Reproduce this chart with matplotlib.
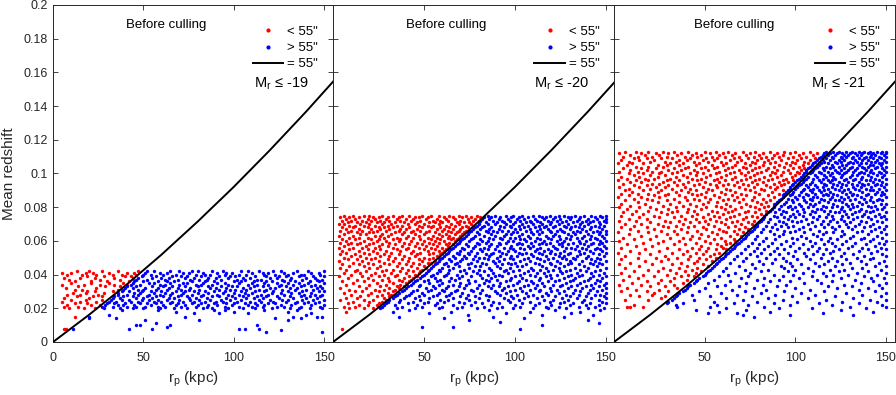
import matplotlib
matplotlib.use("Agg")
import matplotlib.pyplot as plt
from matplotlib.lines import Line2D
import numpy as np

plt.rcParams['font.family'] = ['Liberation Sans', 'DejaVu Sans']

# %% data: rows of (redshift in units of 0.001, [r_p values in kpc])

# panel 1, Mr <= -19
red1 = [
    (42, [13, 20, 27, 36, 47]), (41, [5, 10, 18, 22, 31, 41, 45]), (40, [8, 16, 24, 33, 38, 46]),
    (39, [19, 28, 40, 43]), (38, [6, 15, 23, 34, 44]), (37, [9, 26, 37]), (36, [12, 21, 30, 42]),
    (35, [10, 21, 31, 39]), (34, [5, 17, 26, 34, 41]), (33, [14, 29, 37]), (32, [7, 24]),
    (31, [12, 16, 36]), (30, [19, 23, 33]), (29, [11, 18, 28]), (28, [8, 15, 25]), (27, [13, 22, 27]),
    (26, [6, 20]), (25, [10, 18, 27]), (24, [5, 15, 24]), (23, [12, 19]), (22, [8, 21, 26]),
    (21, [6, 14]), (20, [9, 17, 23]), (15, [12]), (8, [6, 7]),
]
blue1 = [
    (42, [52, 56, 65, 70, 77, 80, 88, 94, 104, 108, 114, 122, 126, 135, 141, 150]),
    (41, [51, 59, 63, 72, 75, 83, 91, 96, 99, 110, 116, 119, 128, 133, 143, 147]),
    (40, [50, 54, 61, 68, 79, 84, 87, 95, 103, 107, 117, 123, 130, 137, 139, 148]),
    (39, [49, 57, 66, 71, 74, 82, 92, 98, 101, 112, 118, 125, 129, 136, 144, 150]),
    (38, [47, 55, 60, 64, 73, 78, 86, 90, 97, 105, 109, 120, 124, 132, 140, 145]),
    (37, [46, 52, 62, 69, 76, 81, 85, 93, 102, 106, 113, 115, 127, 131, 138, 146, 149]),
    (36, [45, 50, 58, 63, 67, 77, 84, 89, 100, 104, 111, 118, 121, 128, 134, 142, 147]),
    (35, [44, 53, 56, 65, 72, 74, 83, 91, 95, 103, 110, 117, 124, 130, 136, 141, 150]),
    (34, [43, 48, 59, 62, 70, 79, 82, 88, 97, 108, 113, 119, 126, 133, 139, 145]),
    (33, [41, 46, 55, 61, 66, 73, 80, 86, 93, 99, 102, 111, 116, 125, 129, 137, 143, 148]),
    (32, [40, 44, 51, 58, 64, 69, 76, 87, 90, 96, 105, 109, 120, 123, 131, 135, 146, 149]),
    (31, [39, 47, 50, 57, 63, 71, 75, 81, 92, 98, 101, 107, 114, 118, 127, 134, 140, 144]),
    (30, [38, 42, 49, 54, 60, 68, 73, 78, 84, 89, 95, 104, 112, 117, 122, 130, 138, 147, 150]),
    (29, [36, 45, 48, 56, 62, 66, 72, 80, 86, 94, 100, 106, 110, 121, 126, 132, 136, 143]),
    (28, [36, 41, 47, 53, 59, 65, 71, 77, 83, 91, 97, 103, 108, 115, 119, 128, 139, 145, 149]),
    (27, [34, 39, 44, 52, 57, 61, 69, 74, 82, 88, 92, 99, 105, 113, 118, 124, 131, 137, 142, 148]),
    (26, [33, 37, 46, 50, 55, 64, 67, 75, 79, 85, 96, 101, 107, 111, 116, 125, 133, 140, 146]),
    (25, [32, 38, 42, 49, 53, 58, 63, 70, 76, 81, 87, 93, 98, 104, 114, 120, 127, 130, 138, 144, 150]),
    (24, [31, 35, 43, 47, 56, 60, 66, 72, 78, 84, 90, 94, 102, 109, 115, 122, 129, 135, 141, 147]),
    (23, [30, 34, 40, 48, 52, 57, 65, 69, 77, 82, 89, 96, 100, 106, 112, 119, 123, 134, 139, 145]),
    (22, [29, 36, 39, 45, 54, 61, 68, 73, 80, 86, 91, 99, 108, 113, 117, 126, 132, 143, 150]),
    (21, [27, 33, 41, 46, 51, 58, 62, 71, 79, 85, 95, 103, 110, 116, 124, 128, 137, 148]),
    (20, [28, 37, 44, 50, 59, 67, 74, 83, 88, 97, 105, 112, 121, 131, 136, 142, 149]),
    (19, [38, 58, 89, 95, 117, 135]), (18, [68, 100, 130]), (17, [78, 92, 108, 143]),
    (16, [31, 140]), (15, [20, 73, 133, 146, 149]), (14, [20, 35, 123, 137]), (13, [51, 81, 130]),
    (11, [57]), (10, [46, 48, 65, 113]), (9, [63]), (8, [11, 42, 55, 103, 106, 114]),
    (7, [126]), (6, [118, 149]),
]

# panel 2, Mr <= -20
red2 = [
    (75, [6, 11, 17, 20, 27, 33, 38, 42, 49, 54, 58, 64, 69, 73, 79]),
    (74, [4, 9, 14, 22, 25, 30, 36, 45, 47, 52, 61, 66, 71, 76, 81]),
    (73, [7, 12, 19, 23, 29, 35, 40, 44, 51, 57, 62, 67, 74, 78]),
    (72, [5, 10, 16, 21, 26, 31, 37, 43, 48, 55, 59, 63, 70, 77, 80]),
    (71, [8, 13, 18, 24, 28, 34, 39, 46, 53, 56, 60, 68, 72, 75]),
    (70, [3, 6, 15, 20, 27, 32, 41, 45, 50, 58, 65, 69, 76]),
    (69, [9, 12, 17, 23, 30, 35, 38, 47, 52, 55, 62, 67, 73, 77]),
    (68, [5, 11, 19, 25, 28, 33, 42, 49, 54, 59, 64, 71, 74]),
    (67, [7, 14, 21, 26, 31, 37, 40, 46, 57, 61, 66, 70, 75]),
    (66, [4, 10, 16, 24, 29, 36, 44, 48, 53, 60, 63, 69, 73]),
    (65, [8, 13, 20, 22, 34, 39, 43, 51, 56, 65, 68, 72]),
    (64, [6, 15, 18, 27, 32, 38, 45, 50, 58, 62, 67, 71]),
    (63, [3, 11, 23, 26, 30, 41, 47, 55, 60, 64, 70]),
    (62, [9, 14, 19, 28, 35, 40, 44, 52, 57, 63, 66, 69]),
    (61, [5, 12, 21, 25, 33, 37, 48, 54, 59, 65, 68]),
    (60, [7, 17, 24, 29, 36, 43, 50, 56, 61, 67]),
    (59, [4, 10, 15, 22, 31, 39, 46, 53, 58, 64]),
    (58, [8, 13, 20, 27, 34, 42, 49, 55, 62, 66]),
    (57, [6, 18, 25, 30, 38, 45, 51, 57, 63]),
    (56, [3, 11, 16, 23, 33, 41, 47, 54, 60, 64]),
    (55, [9, 19, 26, 35, 40, 50, 56, 62]),
    (54, [5, 14, 22, 29, 37, 44, 52, 58, 61]),
    (53, [7, 17, 24, 32, 43, 48, 55, 60]),
    (52, [4, 12, 20, 28, 36, 46, 53, 59]),
    (51, [10, 15, 26, 31, 39, 45, 57]),
    (50, [6, 18, 23, 34, 42, 50, 55, 58]),
    (49, [8, 13, 21, 30, 38, 47, 53]),
    (48, [3, 16, 25, 33, 41, 49, 56]),
    (47, [11, 19, 28, 36, 44, 52, 54]),
    (46, [5, 14, 22, 31, 40, 47, 53]),
    (45, [9, 17, 26, 35, 43, 50]), (44, [4, 20, 24, 38, 46, 51]), (43, [7, 13, 29, 33, 41, 49]),
    (42, [12, 18, 27, 37, 44, 48]), (41, [6, 15, 23, 32, 40, 47]), (40, [10, 21, 28, 35, 45]),
    (39, [3, 16, 25, 34, 42, 46]), (38, [8, 19, 30, 39, 44]), (37, [13, 22, 27, 36, 43]),
    (36, [5, 17, 31, 38, 42]), (35, [11, 24, 33, 40]), (34, [7, 20, 29, 37]), (33, [14, 26, 35, 39]),
    (32, [4, 18, 31, 36]), (31, [9, 23, 28, 34]), (30, [12, 16, 25, 33]), (29, [6, 21, 30]),
    (28, [10, 19, 27, 32]), (27, [15, 24, 31]), (26, [7, 13, 28]), (25, [4, 17, 22, 29]),
    (24, [11, 20, 27]), (23, [8, 25]), (22, [14, 19, 24]), (21, [6, 12]), (20, [9, 17, 22]),
    (18, [7]), (8, [5]),
]
blue2 = [
    (75, [85, 89, 95, 99, 104, 110, 113, 119, 124, 127, 133, 138, 142, 147, 150]),
    (74, [83, 87, 92, 98, 102, 107, 115, 117, 122, 129, 131, 136, 144, 148]),
    (73, [82, 86, 91, 96, 101, 105, 111, 116, 121, 125, 130, 135, 140, 145, 150]),
    (72, [81, 88, 93, 97, 103, 108, 112, 118, 123, 128, 134, 139, 143, 149]),
    (71, [80, 84, 90, 94, 100, 106, 109, 114, 120, 126, 132, 137, 141, 146, 150]),
    (70, [80, 85, 89, 95, 99, 104, 110, 115, 119, 124, 129, 136, 140, 147]),
    (69, [79, 83, 92, 97, 102, 107, 113, 117, 122, 127, 133, 138, 144, 149]),
    (68, [78, 82, 87, 94, 98, 105, 111, 116, 121, 128, 131, 135, 142, 146]),
    (67, [77, 81, 86, 91, 100, 103, 108, 114, 118, 125, 130, 137, 141, 148]),
    (66, [76, 84, 88, 93, 96, 106, 112, 119, 123, 126, 134, 139, 145, 150]),
    (65, [75, 79, 85, 90, 99, 101, 109, 115, 120, 127, 132, 136, 143, 147]),
    (64, [74, 80, 87, 95, 98, 104, 110, 113, 122, 129, 133, 140, 146, 150]),
    (63, [73, 78, 83, 89, 94, 102, 107, 117, 121, 124, 131, 138, 142, 148]),
    (62, [72, 77, 86, 92, 97, 100, 108, 112, 118, 128, 134, 137, 144, 149]),
    (61, [71, 76, 81, 88, 93, 103, 105, 114, 120, 125, 130, 141, 145]),
    (60, [70, 75, 82, 85, 96, 99, 106, 111, 116, 123, 127, 135, 139, 147, 150]),
    (59, [69, 79, 84, 91, 95, 102, 109, 115, 119, 126, 132, 136, 143, 148]),
    (58, [68, 73, 80, 87, 92, 101, 104, 113, 117, 124, 129, 138, 142, 146]),
    (57, [67, 74, 78, 86, 90, 98, 107, 110, 121, 126, 134, 140, 149]),
    (56, [66, 71, 77, 83, 94, 97, 103, 108, 114, 122, 128, 131, 137, 145, 150]),
    (55, [65, 72, 81, 85, 89, 99, 105, 112, 118, 123, 133, 139, 144, 147]),
    (54, [64, 70, 76, 82, 91, 96, 100, 111, 116, 120, 127, 135, 141, 148]),
    (53, [63, 68, 74, 79, 88, 93, 102, 106, 113, 119, 125, 130, 138, 143, 150]),
    (52, [62, 69, 75, 84, 87, 95, 104, 109, 115, 122, 129, 136, 146]),
    (51, [61, 66, 72, 78, 86, 92, 98, 101, 110, 117, 124, 127, 134, 140, 149]),
    (50, [60, 67, 73, 80, 83, 90, 97, 107, 112, 121, 126, 132, 139, 145]),
    (49, [59, 64, 71, 77, 85, 94, 99, 105, 114, 118, 128, 133, 142, 147]),
    (48, [58, 65, 70, 79, 88, 91, 103, 108, 116, 123, 130, 137, 144, 150]),
    (47, [57, 62, 68, 76, 82, 89, 96, 100, 111, 119, 125, 131, 141, 146]),
    (46, [56, 61, 67, 74, 84, 93, 98, 106, 113, 120, 129, 135, 143, 148]),
    (45, [55, 63, 69, 78, 81, 90, 101, 104, 115, 122, 127, 138, 145]),
    (44, [54, 60, 66, 75, 86, 92, 97, 109, 117, 124, 133, 140, 150]),
    (43, [53, 58, 64, 72, 80, 87, 95, 102, 110, 114, 121, 130, 136, 147]),
    (42, [52, 59, 70, 77, 83, 94, 99, 107, 118, 125, 128, 139, 144]),
    (41, [51, 57, 63, 73, 79, 88, 96, 105, 112, 116, 126, 134, 142, 149]),
    (40, [50, 55, 62, 68, 81, 85, 91, 103, 108, 119, 123, 131, 137, 146]),
    (39, [49, 54, 61, 71, 76, 89, 93, 100, 111, 117, 129, 135, 143, 150]),
    (38, [48, 56, 65, 69, 82, 87, 98, 104, 114, 120, 127, 133, 141, 148]),
    (37, [46, 52, 59, 67, 74, 84, 90, 97, 106, 113, 124, 132, 140, 145]),
    (36, [45, 50, 57, 64, 78, 86, 95, 102, 109, 118, 122, 130, 138, 147]),
    (35, [44, 53, 60, 70, 75, 83, 92, 101, 110, 115, 128, 136, 144, 150]),
    (34, [43, 48, 58, 66, 73, 80, 88, 99, 107, 112, 121, 126, 134, 142, 149]),
    (33, [41, 47, 55, 63, 69, 85, 91, 96, 105, 116, 125, 131, 139, 146]),
    (32, [40, 51, 56, 62, 72, 79, 87, 94, 103, 111, 119, 129, 137, 143, 150]),
    (31, [39, 46, 54, 60, 68, 76, 82, 93, 100, 108, 114, 123, 133, 141, 148]),
    (30, [38, 44, 52, 61, 67, 77, 89, 97, 104, 113, 120, 127, 136, 145]),
    (29, [36, 43, 49, 58, 65, 71, 81, 90, 95, 106, 117, 124, 132, 140, 150]),
    (28, [35, 42, 50, 57, 64, 74, 84, 92, 101, 110, 118, 128, 135, 144, 147]),
    (27, [34, 40, 47, 55, 62, 70, 78, 86, 98, 107, 115, 122, 130, 139, 149]),
    (26, [33, 39, 45, 53, 66, 73, 80, 94, 99, 105, 112, 126, 134, 142, 150]),
    (25, [31, 37, 48, 59, 63, 75, 85, 96, 102, 116, 121, 129, 138, 146]),
    (24, [30, 36, 44, 52, 61, 69, 78, 88, 97, 108, 119, 127, 137, 148]),
    (23, [29, 41, 50, 57, 72, 82, 91, 104, 113, 125, 132, 141, 150]),
    (22, [28, 34, 46, 56, 66, 76, 87, 100, 111, 120, 130, 139, 146]),
    (21, [27, 38, 49, 60, 71, 83, 93, 103, 117, 124, 135, 144]),
    (20, [26, 35, 45, 58, 68, 79, 90, 99, 110, 118, 128, 140, 149]),
    (19, [42, 86, 122, 147]), (18, [33, 65, 108, 136]), (17, [53, 95, 131]), (16, [74, 115, 143]),
    (15, [36, 88, 127]), (14, [61, 105]), (13, [75, 140]), (12, [92]), (11, [146]), (10, [115]),
    (9, [49, 66]), (8, [103]),
]

# panel 3, Mr <= -21
red3 = [
    (113, [6, 12, 19, 27, 33, 41, 50, 56, 63, 71, 78, 86, 94, 100, 108]),
    (112, [3, 15, 23, 30, 37, 45, 53, 60, 67, 75, 82, 90, 97, 104, 112]),
    (111, [9, 17, 25, 35, 43, 48, 58, 65, 73, 80, 88, 93, 102, 110]),
    (110, [5, 13, 21, 29, 39, 46, 54, 61, 69, 77, 84, 91, 99, 106]),
    (109, [11, 18, 26, 32, 42, 51, 57, 66, 74, 81, 87, 96, 103, 111]),
    (108, [4, 14, 22, 36, 40, 49, 55, 64, 70, 79, 85, 92, 101, 108]),
    (107, [8, 20, 28, 34, 44, 52, 59, 68, 76, 83, 89, 98, 105]),
    (106, [2, 10, 16, 31, 38, 47, 62, 72, 78, 86, 95, 100, 107]),
    (105, [7, 24, 29, 36, 45, 54, 60, 67, 75, 82, 91, 97, 104]),
    (104, [12, 19, 27, 41, 50, 57, 65, 71, 80, 88, 94, 102]),
    (103, [5, 15, 23, 33, 39, 48, 55, 63, 73, 78, 85, 99, 105]),
    (102, [9, 18, 30, 37, 44, 52, 61, 69, 76, 84, 90, 96, 103]),
    (101, [3, 13, 21, 26, 35, 46, 58, 66, 74, 81, 87, 93, 101]),
    (100, [8, 16, 25, 32, 42, 49, 56, 64, 70, 79, 89, 97, 102]),
    (99, [11, 20, 28, 38, 45, 53, 62, 72, 77, 86, 92, 100]),
    (98, [4, 14, 24, 34, 40, 51, 59, 67, 75, 83, 90, 98]),
    (97, [7, 17, 22, 31, 43, 48, 57, 65, 73, 80, 87, 95]),
    (96, [2, 12, 19, 29, 36, 46, 55, 61, 70, 78, 85, 93, 99]),
    (95, [9, 15, 27, 33, 41, 50, 58, 68, 76, 82, 91, 96]),
    (94, [5, 21, 25, 38, 47, 53, 63, 71, 79, 88, 94]),
    (93, [11, 18, 30, 35, 44, 56, 60, 66, 74, 84, 92]),
    (92, [3, 14, 23, 28, 39, 49, 57, 69, 77, 86, 90]),
    (91, [8, 20, 32, 42, 52, 62, 72, 81, 89]),
    (90, [6, 16, 26, 37, 45, 54, 64, 75, 83, 93]),
    (89, [10, 24, 34, 41, 51, 59, 67, 78, 87]),
    (88, [4, 13, 19, 30, 43, 48, 61, 70, 80, 91]),
    (87, [8, 22, 28, 36, 46, 55, 65, 73, 85]),
    (86, [2, 15, 25, 39, 50, 58, 68, 77, 88]),
    (85, [11, 18, 33, 44, 53, 63, 71, 82]),
    (84, [6, 21, 29, 40, 47, 60, 66, 76, 86]),
    (83, [13, 24, 36, 52, 57, 69, 79, 84]),
    (82, [4, 17, 31, 42, 49, 62, 73, 81, 88]),
    (81, [9, 27, 38, 45, 56, 64, 75, 85]),
    (80, [3, 14, 20, 34, 51, 59, 70, 78, 83]),
    (79, [7, 23, 30, 41, 48, 61, 67, 80]),
    (78, [12, 19, 35, 44, 54, 65, 74, 84]),
    (77, [5, 26, 32, 40, 57, 63, 72, 78]),
    (76, [10, 16, 29, 46, 52, 60, 69, 81]),
    (75, [4, 22, 37, 43, 55, 66, 76]),
    (74, [14, 25, 33, 49, 58, 64, 73, 79]),
    (73, [8, 18, 39, 45, 53, 62, 71]),
    (72, [3, 12, 28, 36, 50, 56, 68, 77]),
    (71, [20, 31, 42, 47, 59, 65, 74]),
    (70, [6, 15, 24, 38, 52, 61, 70, 76]),
    (69, [11, 27, 34, 44, 55, 67]),
    (68, [4, 18, 30, 41, 49, 63, 72]),
    (67, [9, 22, 37, 51, 58, 69, 74]),
    (66, [13, 26, 33, 46, 60, 66]),
    (65, [2, 19, 40, 54, 62, 71]),
    (64, [8, 29, 35, 48, 57, 68]),
    (63, [15, 23, 43, 52, 64, 70]),
    (62, [5, 31, 38, 47, 59]), (61, [11, 20, 42, 55, 66]), (60, [3, 27, 36, 50, 61, 67]),
    (59, [16, 24, 45, 53, 64]), (58, [7, 33, 39, 57, 62]), (57, [12, 21, 48, 59]),
    (56, [4, 29, 43, 52, 60]), (55, [17, 36, 47, 56, 62]), (54, [9, 25, 40, 51]),
    (53, [2, 14, 32, 45, 58]), (52, [20, 38, 49, 55]), (51, [6, 28, 42, 53]),
    (50, [13, 23, 35, 47, 56]), (49, [4, 30, 41, 51]), (48, [17, 26, 46, 54]), (47, [9, 37, 44]),
    (46, [3, 21, 32, 49]), (45, [14, 40, 52]), (44, [6, 27, 36, 46]), (43, [19, 31, 43]),
    (42, [11, 24, 39, 48]), (41, [4, 34, 45]), (40, [16, 29, 41]), (39, [8, 22, 37, 44]),
    (38, [13, 33]), (37, [5, 26, 40]), (36, [18, 31]), (35, [10, 24, 38]), (34, [3, 15, 33]),
    (33, [20, 28]), (32, [7, 35]), (31, [12, 25]), (30, [4, 18, 30]), (29, [22]), (28, [9, 21]),
    (27, [14, 28]), (26, [26]), (25, [6, 19]), (22, [11]), (21, [7, 9, 16]),
]
blue3 = [
    (113, [117, 121, 124, 128, 131, 135, 138, 141, 145, 148, 150]),
    (112, [116, 119, 123, 126, 130, 133, 137, 140, 143, 147, 150]),
    (111, [115, 118, 122, 127, 129, 134, 136, 142, 144, 149]),
    (110, [114, 120, 125, 128, 132, 139, 141, 146, 150]),
    (109, [113, 117, 121, 126, 131, 135, 138, 143, 147]),
    (108, [112, 115, 119, 124, 127, 133, 137, 140, 145, 149]),
    (107, [111, 116, 122, 125, 130, 134, 142, 144, 150]),
    (106, [110, 114, 118, 123, 129, 132, 136, 139, 146, 148]),
    (105, [109, 113, 120, 126, 128, 135, 141, 143, 147]),
    (104, [108, 112, 117, 121, 124, 131, 137, 140, 145, 150]),
    (103, [107, 111, 115, 119, 127, 130, 134, 138, 144, 148]),
    (102, [106, 110, 116, 122, 125, 129, 133, 139, 142, 149]),
    (101, [106, 109, 113, 118, 123, 128, 132, 136, 141, 146, 150]),
    (100, [105, 108, 114, 120, 124, 127, 135, 138, 143, 147]),
    (99, [104, 111, 116, 119, 126, 131, 134, 140, 145, 149]),
    (98, [103, 107, 112, 117, 121, 125, 130, 137, 142, 148]),
    (97, [102, 106, 110, 115, 122, 128, 133, 136, 144, 150]),
    (96, [101, 105, 113, 118, 120, 127, 132, 139, 141, 146]),
    (95, [100, 104, 109, 114, 119, 124, 129, 135, 143, 148]),
    (94, [99, 103, 108, 116, 121, 126, 131, 137, 140, 145, 150]),
    (93, [98, 102, 106, 111, 117, 123, 128, 134, 138, 144, 147]),
    (92, [97, 101, 107, 112, 115, 120, 125, 132, 136, 142, 149]),
    (91, [97, 100, 105, 110, 118, 122, 129, 133, 139, 146]),
    (90, [96, 104, 108, 113, 116, 124, 127, 135, 141, 143, 150]),
    (89, [95, 99, 103, 109, 114, 119, 126, 130, 137, 145, 148]),
    (88, [94, 98, 106, 111, 117, 121, 128, 132, 140, 144, 149]),
    (87, [93, 97, 102, 107, 115, 118, 123, 131, 134, 139, 147]),
    (86, [93, 100, 104, 110, 112, 120, 125, 129, 136, 142, 150]),
    (85, [92, 96, 101, 108, 114, 119, 127, 133, 138, 146]),
    (84, [91, 98, 105, 109, 116, 122, 124, 130, 141, 145, 148]),
    (83, [90, 95, 99, 106, 113, 118, 126, 135, 139, 143]),
    (82, [89, 94, 102, 108, 111, 121, 128, 131, 137, 147, 150]),
    (81, [88, 92, 97, 103, 110, 115, 123, 129, 134, 140, 144]),
    (80, [88, 96, 100, 107, 117, 120, 126, 132, 142, 149]),
    (79, [87, 91, 98, 104, 112, 114, 125, 130, 136, 145, 148]),
    (78, [86, 93, 101, 109, 116, 119, 127, 135, 139, 143]),
    (77, [85, 89, 95, 105, 111, 122, 124, 133, 141, 150]),
    (76, [84, 92, 99, 102, 108, 118, 128, 131, 138, 146]),
    (75, [83, 88, 97, 104, 113, 120, 126, 137, 144, 149]),
    (74, [83, 90, 94, 100, 110, 117, 129, 134, 140, 147]),
    (73, [82, 86, 96, 106, 112, 121, 125, 132, 142, 150]),
    (72, [81, 91, 98, 103, 115, 119, 127, 136, 145]),
    (71, [80, 85, 93, 101, 109, 123, 130, 139, 148]),
    (70, [79, 89, 95, 107, 114, 118, 128, 135, 143]),
    (69, [79, 84, 92, 99, 111, 124, 133, 141, 150]),
    (68, [78, 87, 96, 104, 116, 120, 129, 138, 146]),
    (67, [77, 82, 90, 102, 108, 122, 131, 144, 149]),
    (66, [76, 86, 94, 100, 113, 126, 137, 142]),
    (65, [75, 81, 97, 105, 117, 121, 134, 147]),
    (64, [74, 88, 93, 110, 115, 127, 140, 150]),
    (63, [73, 79, 91, 103, 112, 125, 132, 145]),
    (62, [72, 84, 98, 106, 119, 130, 138, 148]),
    (61, [71, 78, 89, 101, 114, 123, 136, 143]),
    (60, [70, 82, 95, 108, 118, 128, 141, 150]),
    (59, [69, 76, 87, 99, 111, 120, 133, 146]),
    (58, [68, 80, 92, 104, 116, 126, 139, 149]),
    (57, [67, 74, 85, 97, 109, 122, 131, 144]),
    (56, [66, 79, 90, 102, 113, 129, 137, 147]),
    (55, [65, 72, 83, 94, 107, 117, 124, 140, 150]),
    (54, [64, 77, 88, 100, 112, 121, 135, 145]),
    (53, [63, 70, 81, 96, 105, 119, 127, 142]),
    (52, [62, 75, 86, 91, 110, 115, 132, 148]),
    (51, [61, 68, 79, 99, 106, 125, 138, 150]),
    (50, [60, 73, 84, 93, 114, 120, 134, 143]),
    (49, [59, 66, 89, 101, 108, 128, 141]),
    (48, [58, 71, 80, 95, 118, 123, 136, 149]),
    (47, [57, 64, 87, 97, 111, 130, 146]),
    (46, [56, 76, 82, 103, 116, 126, 139]),
    (45, [55, 69, 92, 98, 113, 122, 144, 150]),
    (44, [54, 62, 78, 94, 107, 131, 137]),
    (43, [53, 72, 85, 100, 119, 127, 147]),
    (42, [52, 60, 81, 96, 110, 124, 140]),
    (41, [51, 67, 75, 104, 115, 134, 150]),
    (40, [50, 63, 88, 99, 121, 129, 145]),
    (39, [49, 58, 74, 93, 109, 117, 138]),
    (38, [47, 70, 83, 102, 125, 142, 149]),
    (37, [46, 55, 79, 91, 112, 133]),
    (36, [45, 64, 86, 97, 120, 143]),
    (35, [44, 52, 73, 105, 114, 136, 150]),
    (34, [42, 61, 82, 95, 127, 146]),
    (33, [41, 57, 69, 90, 118, 131]),
    (32, [40, 50, 77, 100, 123, 140, 148]),
    (31, [39, 65, 84, 108, 135]),
    (30, [38, 47, 72, 94, 116, 144]),
    (29, [36, 59, 81, 103, 128, 150]),
    (28, [35, 43, 68, 89, 111, 137]),
    (27, [34, 53, 76, 98, 122, 147]),
    (26, [33, 62, 85, 107, 132]),
    (25, [32, 44, 71, 93, 117, 141, 150]),
    (24, [30, 55, 79, 101, 126, 145]),
    (23, [29, 38, 66, 88, 113, 135]),
    (22, [34, 57, 74, 97, 120, 148]),
    (21, [35, 53, 83, 130, 150]),
    (20, [62, 91, 109, 139]),
    (19, [45, 73, 125]), (18, [58, 86, 143]), (17, [52, 68, 115]), (16, [71, 97, 132]), (15, [77]),
]

# 55 arcsec curve (r_p in kpc, redshift)
curve_rp = [0, 20, 40, 60, 80, 100, 120, 140, 155]
curve_z = [0, 0.0162, 0.0334, 0.0518, 0.0714, 0.092, 0.1138, 0.1366, 0.1545]

mag_labels = ['-19', '-20', '-21']
xticks = [0, 50, 100, 150]
xtick_labels = ['0', '50', '100', '150']
yticks = [0, 0.02, 0.04, 0.06, 0.08, 0.1, 0.12, 0.14, 0.16, 0.18, 0.2]
ytick_labels = ['0', '0.02', '0.04', '0.06', '0.08', '0.1', '0.12', '0.14', '0.16', '0.18', '0.2']


def unpack(rows):
    xs = [x for z, row in rows for x in row]
    zs = [z / 1000 for z, row in rows for x in row]
    return np.array(xs), np.array(zs)


# %% figure
fig = plt.figure(figsize=(8.96, 3.95), dpi=100)
lefts = [0.0592, 0.3717, 0.6853]
widths = [0.3125, 0.3147, 0.3136]
title_x = [0.405, 0.402, 0.429]
mag_x = [0.718, 0.713, 0.701]
dark = (0.15, 0.15, 0.15)

panels = [(red1, blue1), (red2, blue2), (red3, blue3)]
for i, (red, blue) in enumerate(panels):
    ax = fig.add_axes([lefts[i], 0.1342, widths[i], 0.8532])
    rx, rz = unpack(red)
    bx, bz = unpack(blue)
    ax.scatter(rx, rz, s=6, color='red', linewidths=0, zorder=2)
    ax.scatter(bx, bz, s=6, color='blue', linewidths=0, zorder=2)
    ax.plot(curve_rp, curve_z, color='black', lw=1.4, zorder=3)

    ax.set_xlim(0, 155)
    ax.set_ylim(0, 0.2)
    ax.set_xticks(xticks)
    ax.set_yticks(yticks)
    if i == 0:
        ax.set_xticklabels(xtick_labels)
        ax.set_yticklabels(ytick_labels)
    else:
        ax.set_xticklabels([''] + xtick_labels[1:])
        ax.set_yticklabels([])
    ax.tick_params(direction='in', top=True, right=True, length=3.5, width=0.6,
                   labelsize=9, colors=dark, labelcolor=dark)
    ax.tick_params(axis='x', pad=7)
    ax.tick_params(axis='y', pad=4)
    for sp in ax.spines.values():
        sp.set_color(dark)
        sp.set_linewidth(0.7)
    ax.set_xlabel(r'r$_{\mathregular{p}}$ (kpc)', fontsize=11, color=dark, labelpad=4)

    ax.text(title_x[i], 0.94, 'Before culling', transform=ax.transAxes,
            ha='center', va='center', fontsize=9.5)
    handles = [Line2D([], [], marker='.', ls='none', color='red', markersize=4),
               Line2D([], [], marker='.', ls='none', color='blue', markersize=4),
               Line2D([], [], color='black', lw=1.4)]
    ax.legend(handles, ['< 55"', '> 55"', '= 55"'], loc='upper right',
              bbox_to_anchor=(0.945, 0.938), frameon=False, fontsize=9.5,
              borderpad=0, borderaxespad=0, handlelength=2.3,
              handletextpad=0.3, labelspacing=0.3)
    ax.text(mag_x[i], 0.766, r'M$_{\mathregular{r}}$ ≤ ' + mag_labels[i],
            transform=ax.transAxes, ha='left', va='center', fontsize=10.5)

fig.text(0.01, 0.56, 'Mean redshift', rotation=90, ha='center', va='center',
         fontsize=11, color=dark)

plt.savefig('out.png', dpi=100)
